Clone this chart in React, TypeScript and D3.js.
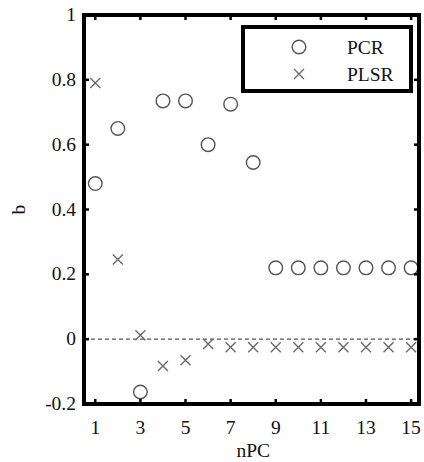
import React, { useEffect, useRef } from 'react';
import * as d3 from 'd3';

const nPC = [1, 2, 3, 4, 5, 6, 7, 8, 9, 10, 11, 12, 13, 14, 15];
const pcr = [0.48, 0.65, -0.163, 0.735, 0.735, 0.6, 0.725, 0.545, 0.22, 0.22, 0.22, 0.22, 0.22, 0.22, 0.22];
const plsr = [0.79, 0.246, 0.012, -0.083, -0.065, -0.015, -0.025, -0.025, -0.025, -0.025, -0.025, -0.025, -0.025, -0.025, -0.025];
const xTicks = [1, 3, 5, 7, 9, 11, 13, 15];
const yTicks = [-0.2, 0, 0.2, 0.4, 0.6, 0.8, 1];

const App = () => {
  const svgRef = useRef<SVGSVGElement>(null);

  useEffect(() => {
    const svg = d3.select(svgRef.current);
    svg.selectAll('*').remove();

    const margin = { top: 15, right: 5, bottom: 58, left: 84 };
    const width = 424, height = 462;
    const font = 'Liberation Serif, Times New Roman, serif';
    const fs = 19.5;

    const x = d3.scaleLinear().domain([0.5, 15.35]).range([margin.left, width - margin.right]);
    const y = d3.scaleLinear().domain([-0.2, 1]).range([height - margin.bottom, margin.top]);

    svg.append('rect').attr('width', width).attr('height', height).attr('fill', '#fff');

    // zero line
    svg.append('line')
      .attr('x1', x(0.5)).attr('x2', x(15.35))
      .attr('y1', y(0)).attr('y2', y(0))
      .attr('stroke', '#555').attr('stroke-width', 1.2)
      .attr('stroke-dasharray', '4,3');

    // markers
    svg.append('g').selectAll('circle')
      .data(nPC)
      .join('circle')
        .attr('cx', d => x(d))
        .attr('cy', (d, i) => y(pcr[i]))
        .attr('r', 6.8)
        .attr('fill', 'none')
        .attr('stroke', '#555')
        .attr('stroke-width', 1.4);

    const s = 5;
    const cross = (cx, cy) => `M${cx - s},${cy - s}L${cx + s},${cy + s}M${cx - s},${cy + s}L${cx + s},${cy - s}`;
    svg.append('g').selectAll('path')
      .data(nPC)
      .join('path')
        .attr('d', (d, i) => cross(x(d), y(plsr[i])))
        .attr('stroke', '#666')
        .attr('stroke-width', 1.3)
        .attr('fill', 'none');

    // frame
    const x0 = margin.left, x1 = width - margin.right, y0 = margin.top, y1 = height - margin.bottom;
    svg.append('rect')
      .attr('x', x0).attr('y', y0).attr('width', x1 - x0).attr('height', y1 - y0)
      .attr('fill', 'none').attr('stroke', '#000').attr('stroke-width', 4);

    // ticks on all sides
    const tk = svg.append('g').attr('stroke', '#000').attr('stroke-width', 2.5);
    xTicks.forEach(t => {
      tk.append('line').attr('x1', x(t)).attr('x2', x(t)).attr('y1', y1).attr('y2', y1 - 5);
      tk.append('line').attr('x1', x(t)).attr('x2', x(t)).attr('y1', y0).attr('y2', y0 + 5);
    });
    yTicks.forEach(t => {
      tk.append('line').attr('x1', x0).attr('x2', x0 + 5).attr('y1', y(t)).attr('y2', y(t));
      tk.append('line').attr('x1', x1).attr('x2', x1 - 5).attr('y1', y(t)).attr('y2', y(t));
    });

    svg.append('g').selectAll('text')
      .data(xTicks)
      .join('text')
        .attr('x', d => x(d))
        .attr('y', y1 + 30)
        .attr('text-anchor', 'middle')
        .attr('font-family', font)
        .attr('font-size', fs)
        .attr('fill', '#111')
        .text(d => d);

    svg.append('g').selectAll('text')
      .data(yTicks)
      .join('text')
        .attr('x', x0 - 8)
        .attr('y', d => y(d) + 6)
        .attr('text-anchor', 'end')
        .attr('font-family', font)
        .attr('font-size', fs)
        .attr('fill', '#111')
        .text(d => String(+d.toFixed(1)));

    svg.append('text')
      .attr('x', x(8))
      .attr('y', 457)
      .attr('text-anchor', 'middle')
      .attr('font-family', font)
      .attr('font-size', fs)
      .attr('fill', '#111')
      .text('nPC');

    svg.append('text')
      .attr('transform', `translate(25,${(y0 + y1) / 2}) rotate(-90)`)
      .attr('text-anchor', 'middle')
      .attr('font-family', font)
      .attr('font-size', fs)
      .attr('fill', '#111')
      .text('b');

    // legend
    const lg = svg.append('g');
    lg.append('rect')
      .attr('x', 243).attr('y', 27).attr('width', 168).attr('height', 64)
      .attr('fill', '#fff').attr('stroke', '#000').attr('stroke-width', 4);
    lg.append('circle').attr('cx', 299).attr('cy', 47).attr('r', 6.8)
      .attr('fill', 'none').attr('stroke', '#555').attr('stroke-width', 1.4);
    lg.append('path').attr('d', cross(299, 74))
      .attr('stroke', '#666').attr('stroke-width', 1.3);
    lg.append('text').attr('x', 347).attr('y', 54)
      .attr('font-family', font).attr('font-size', fs).attr('fill', '#111').text('PCR');
    lg.append('text').attr('x', 347).attr('y', 81)
      .attr('font-family', font).attr('font-size', fs).attr('fill', '#111').text('PLSR');
  }, []);

  return <svg ref={svgRef} width={424} height={462} style={{ position: 'absolute', left: 0, top: 0 }}></svg>;
};

export default App;
